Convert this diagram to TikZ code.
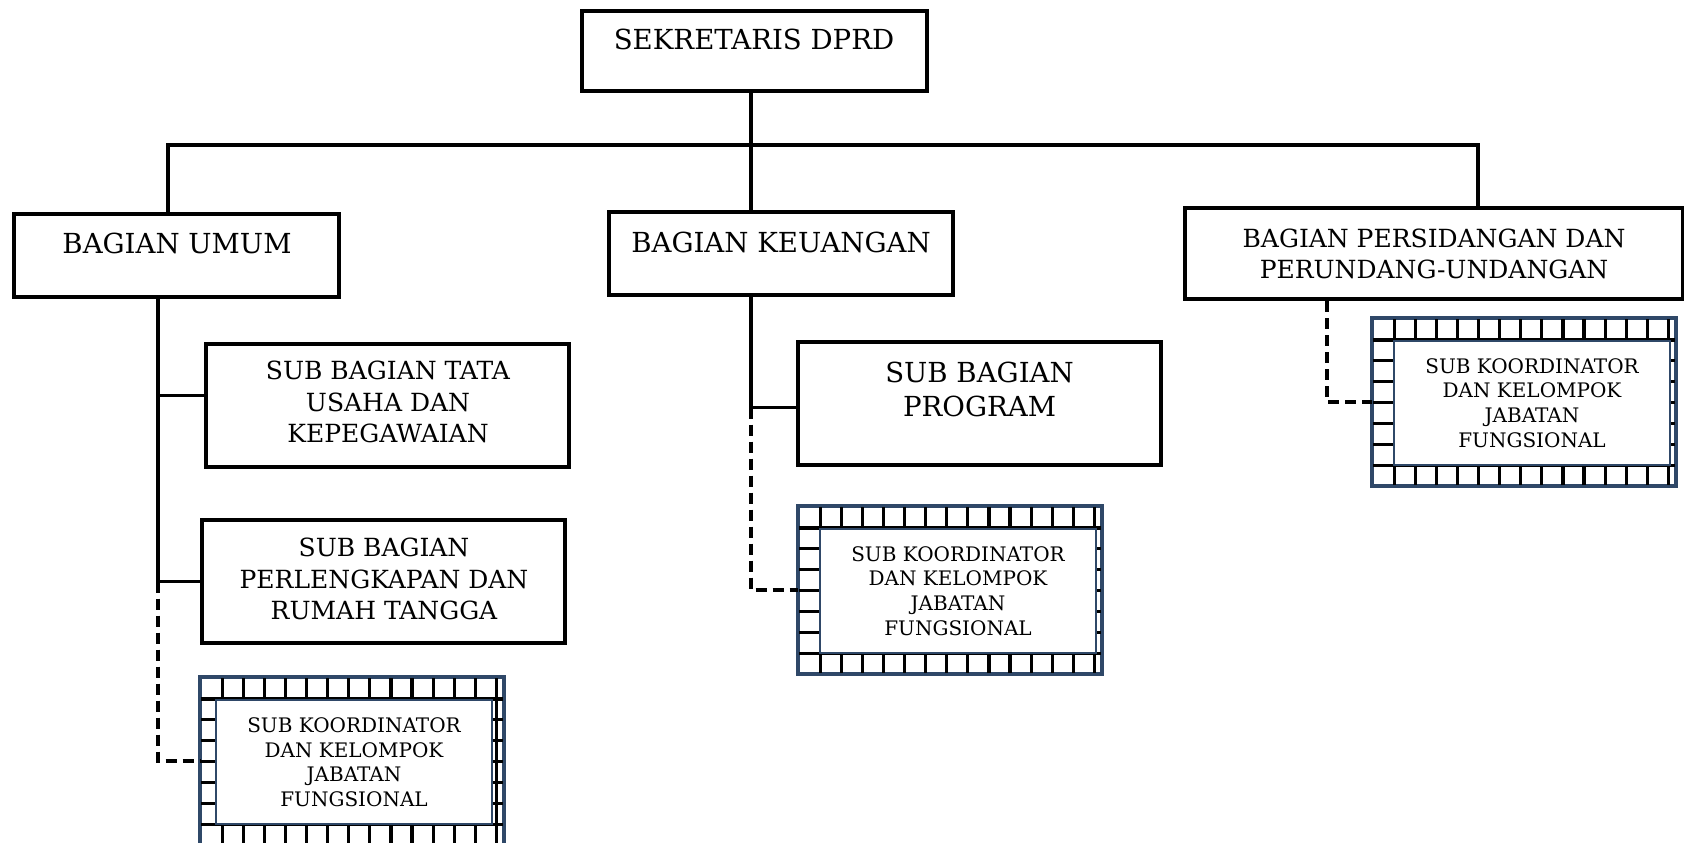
\documentclass[tikz,border=0pt]{standalone}
\usepackage{fontspec}
\setmainfont{DejaVu Serif}
\definecolor{kblue}{RGB}{47,72,104}
\tikzset{
  box/.style={draw=black, line width=2.2pt, fill=white, inner sep=0pt},
  maintxt/.style={font=\fontsize{13.8}{17}\selectfont, inner sep=0pt, align=center},
  subtxt/.style={font=\fontsize{12.5}{15.6}\selectfont, align=center},
  progtxt/.style={font=\fontsize{13.8}{17}\selectfont, inner sep=0pt, align=center},
  conn/.style={line width=1.8pt, line cap=rect},
  dconn/.style={line width=1.9pt, dash pattern=on 5.5pt off 3pt},
  kouter/.style={draw=kblue, line width=1.3pt, fill=white, minimum width=151pt, minimum height=83pt, inner sep=0pt},
  kinner/.style={draw=kblue, line width=1.4pt, fill=white, minimum width=138pt, minimum height=62pt, inner sep=0pt,
     font=\fontsize{10}{12.3}\selectfont, align=center},
  gridln/.style={line width=1.6pt, black},
}
% #1 name, #2 x0, #3 y0, #4 inner centre x offset, #5 text
\newcommand\koordbox[5]{%
  \node[kouter] (#1) at ({#2+151},{#3+83}) {};
  \begin{scope}
    \clip (#2,#3) rectangle ({#2+302},{#3+166});
    \foreach \i in {1,...,14} \draw[gridln] ({#2+\i*21.1},#3) -- ++(0,166);
    \foreach \j in {1,...,7} \draw[gridln] (#2,{#3+\j*20.9}) -- ++(302,0);
  \end{scope}
  \node[kinner] (#1-in) at ({#2+#4},{#3+84}) {#5};
  \draw[draw=kblue, line width=1.3pt] (#1.south west) rectangle (#1.north east);
}
\begin{document}
\begin{tikzpicture}[x=0.5pt,y=-0.5pt]
\useasboundingbox[fill=white] (0,0) rectangle (1684,842);

% top level
\node[box, minimum width=172.5pt, minimum height=40pt] (sek) at (754.5,51) {};
\node[maintxt] (sek-t) at (754,39) {SEKRETARIS DPRD};

% bagian
\node[box, minimum width=162.5pt, minimum height=41.5pt] (umum) at (176.5,255.5) {};
\node[maintxt] (umum-t) at (177,243) {BAGIAN UMUM};
\node[box, minimum width=172pt, minimum height=41.5pt] (keu) at (781,253.5) {};
\node[maintxt] (keu-t) at (781,242) {BAGIAN KEUANGAN};
\node[box, minimum width=249pt, minimum height=45.5pt, subtxt] (pers) at (1434,253.5) {BAGIAN PERSIDANGAN DAN\\PERUNDANG-UNDANGAN};

% sub bagian
\node[box, minimum width=181.5pt, minimum height=61.5pt] (tu) at (387.5,405.5) {};
\node[subtxt, inner sep=0pt] (tu-t) at (388,402) {SUB BAGIAN TATA\\USAHA DAN\\KEPEGAWAIAN};
\node[box, minimum width=181.5pt, minimum height=61.5pt] (pk) at (383.5,581.5) {};
\node[subtxt, inner sep=0pt] (pk-t) at (384,579) {SUB BAGIAN\\PERLENGKAPAN DAN\\RUMAH TANGGA};
\node[box, minimum width=181.5pt, minimum height=61.5pt] (prog) at (979.5,403.5) {};
\node[progtxt] (prog-t) at (979.5,389) {SUB BAGIAN\\PROGRAM};

% koordinator boxes
\koordbox{kL}{201}{678}{153}{SUB KOORDINATOR\\DAN KELOMPOK\\JABATAN\\FUNGSIONAL}
\koordbox{kM}{799}{507}{159}{SUB KOORDINATOR\\DAN KELOMPOK\\JABATAN\\FUNGSIONAL}
\koordbox{kR}{1373}{319}{159}{SUB KOORDINATOR\\DAN KELOMPOK\\JABATAN\\FUNGSIONAL}

% hub coordinates
\coordinate (hub) at (751,145);
\coordinate (hubL) at (168,145);
\coordinate (hubR) at (1478,145);
\coordinate (trunkL) at (158,297);
\coordinate (trunkR) at (1327,299);

% connectors
\draw[conn] (hub |- sek.south) -- (hub |- keu.north);
\draw[conn] (hubL |- umum.north) -- (hubL) -- (hubR) -- (hubR |- pers.north);

\draw[conn] (trunkL |- umum.south) -- (trunkL |- pk.west);
\draw[conn] ([yshift=5pt]trunkL |- tu.west) -- ([yshift=5pt]tu.west);
\draw[conn] (trunkL |- pk.west) -- (pk.west);
\draw[dconn] (trunkL |- pk.west) -- (trunkL |- kL.west) -- (kL.west);

\draw[conn] (hub |- keu.south) -- ([yshift=-2pt]hub |- prog.west) -- ([yshift=-2pt]prog.west);
\draw[dconn] ([yshift=-2pt]hub |- prog.west) -- (hub |- kM.west) -- (kM.west);

\draw[dconn] (trunkR |- pers.south) -- (trunkR |- kR.west) -- (kR.west);
\end{tikzpicture}
\end{document}
